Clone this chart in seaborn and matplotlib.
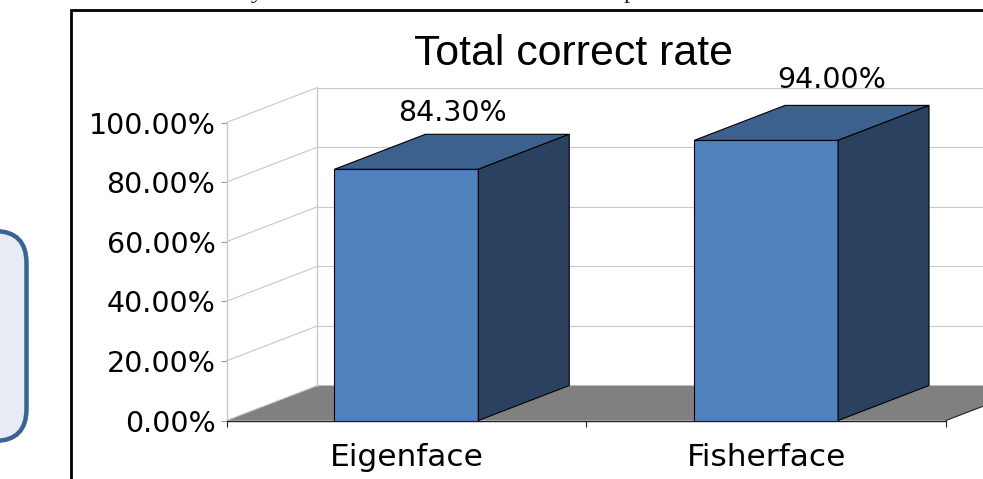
import matplotlib
matplotlib.use('Agg')
import matplotlib.pyplot as plt
from matplotlib.patches import FancyBboxPatch, Polygon, Rectangle
from matplotlib.ticker import FixedLocator
from matplotlib.transforms import IdentityTransform
import pandas as pd
import seaborn as sns

# data
categories = ['Eigenface', 'Fisherface']
rates = [84.3, 94.0]
rate_labels = ['84.30%', '94.00%']
y_ticks = [0, 20, 40, 60, 80, 100]
y_tick_labels = ['0.00%', '20.00%', '40.00%', '60.00%', '80.00%', '100.00%']
chart_title = 'Total correct rate'

W, H = 983, 479
FRONT = '#4f81bd'
TOP = '#3d618e'
SIDE = '#2a4260'
FLOOR = '#808080'
GRID = '#c8c8c8'
BAR_W = 0.4
FONT = 'DejaVu Sans'

sns.set_theme(style='white')
fig = plt.figure(figsize=(W / 100, H / 100), dpi=100)
ax = fig.add_axes([226.5 / W, 1 - 420.5 / H, 719.5 / W, 298 / H])

df = pd.DataFrame({'method': categories, 'rate': rates})
sns.barplot(data=df, x='method', y='rate', color=FRONT, saturation=1, width=BAR_W,
            edgecolor='black', linewidth=0.8, ax=ax, zorder=5)
ax.set_xlim(-0.5, 1.5)
ax.set_ylim(0, 100)

# depth of the fake 3d box, in data units
dx = 91 / 360
dy = 35 / 2.98

# floor
ax.add_patch(Polygon([(-0.5, 0), (-0.5 + dx, dy), (1.5 + dx, dy), (1.5, 0)], closed=True,
                     facecolor=FLOOR, edgecolor='none', clip_on=False, zorder=1))

# walls
for t in y_ticks:
    ax.plot([-0.5, -0.5 + dx], [t, t + dy], color=GRID, lw=0.8, clip_on=False, zorder=2)
    if t > 0:
        ax.plot([-0.5 + dx, 1.5 + dx], [t + dy, t + dy], color=GRID, lw=0.8, clip_on=False, zorder=2)
ax.plot([-0.5, -0.5], [0, 100], color=GRID, lw=1, clip_on=False, zorder=2)
ax.plot([-0.5 + dx, -0.5 + dx], [dy, 100 + dy], color=GRID, lw=1, clip_on=False, zorder=2)

# top and side of bars, labels sit a bit under the gridlines
label_pad = [4.4, 5.8]
label_shift = [0.129, 0.183]
for i, v in enumerate(rates):
    l, r = i - BAR_W / 2, i + BAR_W / 2
    ax.add_patch(Polygon([(l, v), (l + dx, v + dy), (r + dx, v + dy), (r, v)], closed=True,
                         facecolor=TOP, edgecolor='black', lw=0.8, clip_on=False, zorder=6))
    ax.add_patch(Polygon([(r, 0), (r + dx, dy), (r + dx, v + dy), (r, v)], closed=True,
                         facecolor=SIDE, edgecolor='black', lw=0.8, clip_on=False, zorder=6))
    ax.text(i + label_shift[i], v + dy + label_pad[i], rate_labels[i], ha='center', va='baseline',
            fontsize=20.5, family=FONT, color='black', zorder=1.5)

# front edge of the floor and the right hand side of it
ax.plot([-0.5, 1.5], [0, 0], color='#222222', lw=1.0, clip_on=False, zorder=4)
ax.plot([1.5, 1.5 + dx], [0, dy], color='#222222', lw=0.8, clip_on=False, zorder=4)

ax.set_xlabel('')
ax.set_ylabel('')
ax.yaxis.set_major_locator(FixedLocator(y_ticks))
ax.set_yticklabels(y_tick_labels, fontsize=20.5, family=FONT, color='black')
ax.xaxis.set_major_locator(FixedLocator([-0.5, 0.5, 1.5]))
ax.set_xticklabels(['', '', ''])
ax.tick_params(axis='x', length=4, width=0.8, color='#222222', bottom=True)
ax.tick_params(axis='y', length=4, width=0.8, color='#999999', left=True, pad=4)
for i, c in enumerate(categories):
    ax.text(i, -12.4, c, ha='center', va='center', fontsize=22.5, family=FONT, color='black')
sns.despine(ax=ax, left=True, bottom=True, top=True, right=True)

# title
fig.text(573 / W, 1 - 54 / H, chart_title, ha='center', va='center', fontsize=30.8,
         family='Liberation Sans', color='black')

# cut off caption above the frame, only the descenders show
fig.text(257 / W, 1 + 2 / H, 'y', ha='center', va='baseline', fontsize=18, family='Liberation Serif')
fig.text(630 / W, 1 + 2 / H, 'p', ha='center', va='baseline', fontsize=18, family='Liberation Serif')

# surrounding frame and the box at the left
fig.add_artist(Rectangle((71 / W, -0.1), 1.1, 1 - 10 / H + 0.1, transform=fig.transFigure,
                         fill=False, edgecolor='black', lw=2))
fig.add_artist(FancyBboxPatch((-60, H - 441), 86.5, 210, transform=IdentityTransform(),
                              boxstyle='round,pad=0,rounding_size=32',
                              facecolor='#e8edf5', edgecolor='#3c6291', lw=3.2))

fig.savefig('out.png', dpi=100)
